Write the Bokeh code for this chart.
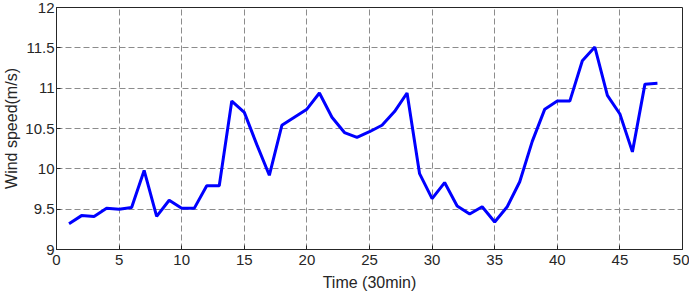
from bokeh.plotting import figure
from bokeh.embed import file_html
from bokeh.resources import INLINE
from bokeh.models import Range1d, FixedTicker

time = list(range(1, 49))
speed = [9.32, 9.42, 9.41, 9.51, 9.50, 9.52, 9.98, 9.41, 9.61, 9.51,
         9.51, 9.79, 9.79, 10.84, 10.70, 10.30, 9.92, 10.54, 10.64, 10.74,
         10.94, 10.64, 10.45, 10.39, 10.46, 10.54, 10.71, 10.94, 9.94, 9.63,
         9.83, 9.54, 9.44, 9.53, 9.34, 9.53, 9.84, 10.34, 10.74, 10.84,
         10.84, 11.34, 11.51, 10.91, 10.68, 10.21, 11.05, 11.06]
x_ticks = [0, 5, 10, 15, 20, 25, 30, 35, 40, 45, 50]
y_ticks = [9, 9.5, 10, 10.5, 11, 11.5, 12]
y_labels = {9: "9", 9.5: "9.5", 10: "10", 10.5: "10.5", 11: "11", 11.5: "11.5", 12: "12"}

p = figure(width=690, height=296, output_backend="svg", toolbar_location=None,
           x_range=Range1d(0, 50), y_range=Range1d(9, 12),
           frame_width=626, frame_height=242,
           min_border_left=55, min_border_right=7, min_border_top=7, min_border_bottom=10)
p.line(time, speed, line_color="#0000FF", line_width=3)

p.xaxis.ticker = FixedTicker(ticks=x_ticks)
p.yaxis.ticker = FixedTicker(ticks=y_ticks)
p.yaxis.major_label_overrides = y_labels
for ax in (p.xaxis[0], p.yaxis[0]):
    ax.major_label_text_font = "Liberation Sans"
    ax.major_label_text_font_size = "15px"
    ax.major_label_text_color = "#262626"
    ax.axis_label_text_font = "Liberation Sans"
    ax.axis_label_text_font_size = "16px"
    ax.axis_label_text_font_style = "normal"
    ax.axis_label_text_color = "#262626"
    ax.axis_line_color = "#262626"
    ax.major_tick_line_color = "#262626"
    ax.major_tick_in = 4
    ax.major_tick_out = 0
    ax.minor_tick_line_color = None
p.xaxis.axis_label = "Time (30min)"
p.yaxis.axis_label = "Wind speed(m/s)"
p.xaxis.major_label_standoff = 5
p.yaxis.major_label_standoff = 2
p.xaxis.axis_label_standoff = 6
p.yaxis.axis_label_standoff = 2

p.xgrid.ticker = FixedTicker(ticks=x_ticks)
p.ygrid.ticker = FixedTicker(ticks=y_ticks)
for g in (p.xgrid[0], p.ygrid[0]):
    g.grid_line_color = "#8c8c8c"
    g.grid_line_dash = "6 3"
    g.grid_line_width = 1

p.outline_line_color = "#262626"
p.outline_line_width = 1

open("out.html", "w").write(file_html(p, INLINE))
